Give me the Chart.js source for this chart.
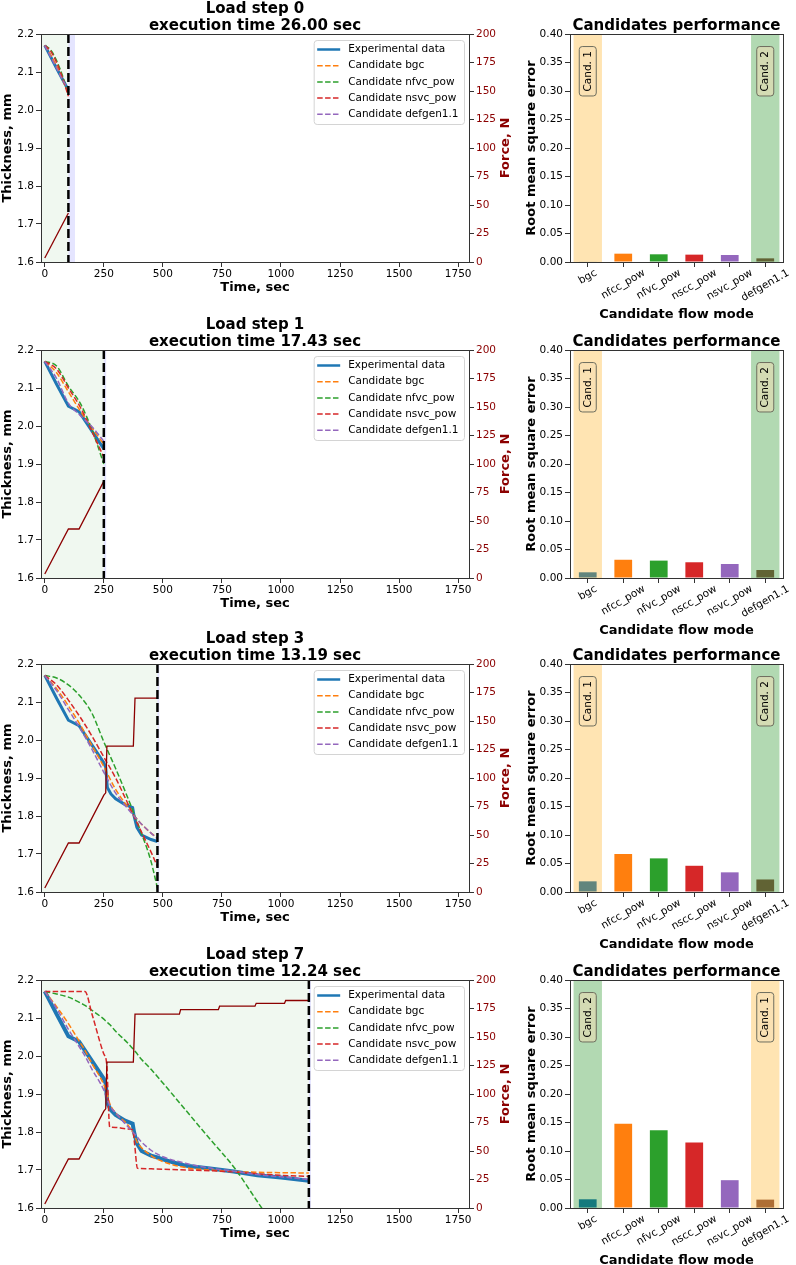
<!DOCTYPE html>
<html>
<head>
<meta charset="utf-8">
<script src="https://cdn.jsdelivr.net/npm/chart.js@4.4.0/dist/chart.umd.min.js"></script>
<style>
  html, body { margin: 0; padding: 0; background: #fff; }
  #page { position: relative; width: 796px; height: 1265px; overflow: hidden; background: #fff; }
  canvas { position: absolute; }
</style>
</head>
<body>
<div id="page"></div>
<script>
// ---- values ----
const stepNames = ["Load step 0", "Load step 1", "Load step 3", "Load step 7"];
const execTimes = ["26.00", "17.43", "13.19", "12.24"];
const stepEnd = [100, 250, 477, 1118];     // dashed line / end of fitted window, sec
const nextStart = [128, 260, 485, 1127];   // end of the light blue band
const timeTicks = [0, 250, 500, 750, 1000, 1250, 1500, 1750];

// experimental thickness
const expTime  = [0, 50, 100, 145, 250, 258, 265, 280, 300, 340, 372, 378, 390, 410, 450, 477, 500, 560, 600, 700, 800, 900, 1000, 1118];
const expThick = [2.17, 2.11, 2.052, 2.038, 1.94, 1.928, 1.875, 1.858, 1.845, 1.83, 1.822, 1.80, 1.77, 1.75, 1.738, 1.733, 1.728, 1.717, 1.711, 1.704, 1.696, 1.686, 1.68, 1.672];

// applied force
const forceTime = [0, 100, 145, 250, 258, 263, 375, 382, 477, 570, 575, 735, 740, 890, 895, 1015, 1020, 1118];
const forceVal  = [3.5, 43, 43, 85, 87, 128, 128, 170, 170, 170, 174, 174, 177, 177, 179.5, 179.5, 182, 182];

// candidate fits, one list per load step
const fitTime = [
  [0, 25, 50, 75, 100],
  [0, 50, 100, 150, 200, 250],
  [0, 50, 100, 150, 200, 250, 300, 350, 400, 450, 477],
  [0, 50, 100, 150, 170, 200, 250, 262, 275, 300, 350, 372, 380, 392, 400, 450, 500, 600, 700, 800, 900, 1000, 1118]
];
const bgcFit = [
  [2.17, 2.145, 2.115, 2.08, 2.045],
  [2.17, 2.14, 2.09, 2.04, 1.995, 1.952],
  [2.17, 2.135, 2.09, 2.04, 1.985, 1.93, 1.87, 1.825, 1.785, 1.755, 1.743],
  [2.17, 2.13, 2.085, 2.035, 2.015, 1.98, 1.925, 1.905, 1.875, 1.85, 1.82, 1.80, 1.79, 1.772, 1.765, 1.738, 1.722, 1.706, 1.70, 1.696, 1.694, 1.693, 1.692]
];
const nfvcFit = [
  [2.17, 2.158, 2.13, 2.09, 2.04],
  [2.17, 2.158, 2.105, 2.06, 1.99, 1.90],
  [2.17, 2.163, 2.145, 2.115, 2.07, 1.995, 1.925, 1.85, 1.77, 1.68, 1.61],
  [2.17, 2.163, 2.155, 2.14, 2.133, 2.12, 2.097, 2.09, 2.083, 2.065, 2.035, 2.02, 2.014, 2.005, 1.998, 1.965, 1.929, 1.855, 1.781, 1.708, 1.617, 1.525, 1.415]
];
const nsvcFit = [
  [2.17, 2.155, 2.125, 2.085, 2.036],
  [2.17, 2.15, 2.1, 2.05, 1.985, 1.918],
  [2.17, 2.145, 2.105, 2.06, 2.01, 1.955, 1.90, 1.835, 1.77, 1.705, 1.667],
  [2.17, 2.17, 2.17, 2.17, 2.17, 2.11, 2.005, 1.98, 1.813, 1.812, 1.808, 1.806, 1.77, 1.705, 1.704, 1.703, 1.702, 1.70, 1.698, 1.695, 1.69, 1.686, 1.683]
];
const defgenFit = [
  [2.17, 2.14, 2.11, 2.08, 2.055],
  [2.17, 2.125, 2.06, 2.028, 1.998, 1.96],
  [2.17, 2.13, 2.08, 2.03, 1.975, 1.915, 1.86, 1.82, 1.785, 1.755, 1.74],
  [2.17, 2.125, 2.07, 2.02, 2.0, 1.965, 1.91, 1.89, 1.87, 1.85, 1.815, 1.80, 1.795, 1.787, 1.78, 1.752, 1.735, 1.717, 1.705, 1.697, 1.688, 1.682, 1.675]
];
const legendLabels = ["Experimental data", "Candidate bgc", "Candidate nfvc_pow", "Candidate nsvc_pow", "Candidate defgen1.1"];

// bar chart
const flowModes = ["bgc", "nfcc_pow", "nfvc_pow", "nscc_pow", "nsvc_pow", "defgen1.1"];
const rmse0 = [0.001, 0.0146, 0.0135, 0.0129, 0.0123, 0.0064];
const rmse1 = [0.010, 0.032, 0.0305, 0.0276, 0.0246, 0.014];
const rmse2 = [0.0187, 0.0667, 0.059, 0.046, 0.0345, 0.022];
const rmse3 = [0.0153, 0.148, 0.1365, 0.115, 0.0488, 0.0147];
const rmse = [rmse0, rmse1, rmse2, rmse3];
const cand1 = [0, 0, 0, 5];   // index highlighted as "Cand. 1"
const cand2 = [5, 5, 5, 0];   // index highlighted as "Cand. 2"

// ---- styling ----
const FONT = "'DejaVu Sans', sans-serif";
Chart.defaults.font.family = FONT;
Chart.defaults.font.size = 10.5;
Chart.defaults.color = '#000';

const lineColors = ['#1f77b4', '#ff7f0e', '#2ca02c', '#d62728', '#9467bd'];
const barColors = ['#1f77b4', '#ff7f0e', '#2ca02c', '#d62728', '#9467bd', '#8c564b'];
const plotTop = [34, 350, 664, 980];

const page = document.getElementById('page');
function makeCanvas(left, top, w, h) {
  const c = document.createElement('canvas');
  c.width = w; c.height = h;
  c.style.left = left + 'px'; c.style.top = top + 'px';
  c.style.width = w + 'px'; c.style.height = h + 'px';
  page.appendChild(c);
  return c.getContext('2d');
}
const pts = (ts, vs) => ts.map((t, i) => ({x: t, y: vs[i]}));
const upTo = (ts, vs, end) => pts(ts, vs).filter(p => p.x <= end);

function frame(ctx, a) {
  ctx.save();
  ctx.strokeStyle = '#333';
  ctx.lineWidth = 1;
  ctx.strokeRect(Math.round(a.left) + 0.5, Math.round(a.top) + 0.5, Math.round(a.width), Math.round(a.height));
  ctx.restore();
}

const tickGrid = {drawOnChartArea: false, drawTicks: true, tickLength: 5, color: '#333'};
const boldTitle = {size: 13, weight: 'bold', lineHeight: 1.2};

// decorations for the thickness/force charts
const lineDeco = {
  id: 'lineDeco',
  beforeDatasetsDraw(chart, args, opts) {
    const {ctx, chartArea: a, scales: {x}} = chart;
    const xe = x.getPixelForValue(opts.end);
    const xn = x.getPixelForValue(opts.next);
    ctx.save();
    ctx.fillStyle = 'rgba(0,128,0,0.06)';
    ctx.fillRect(a.left, a.top, xe - a.left, a.height);
    ctx.fillStyle = 'rgba(0,0,255,0.1)';
    ctx.fillRect(xe, a.top, xn - xe, a.height);
    ctx.restore();
  },
  afterDatasetsDraw(chart, args, opts) {
    const {ctx, chartArea: a, scales: {x}} = chart;
    const xe = x.getPixelForValue(opts.end);
    ctx.save();
    ctx.strokeStyle = '#000';
    ctx.lineWidth = 2.5;
    ctx.setLineDash([9, 4]);
    ctx.beginPath();
    ctx.moveTo(xe, a.top);
    ctx.lineTo(xe, a.bottom);
    ctx.stroke();
    ctx.restore();
    frame(ctx, a);
  },
  afterDraw(chart) {
    const {ctx, chartArea: a} = chart;
    // legend box, upper right
    ctx.save();
    ctx.font = '10.5px ' + FONT;
    const tw = Math.max(...legendLabels.map(l => ctx.measureText(l).width));
    const w = tw + 40, h = 84;
    const bx = a.right - 5 - w, by = a.top + 6;
    ctx.beginPath();
    ctx.roundRect(bx + 0.5, by + 0.5, w, h, 3);
    ctx.fillStyle = 'rgba(255,255,255,0.85)';
    ctx.fill();
    ctx.strokeStyle = '#d4d4d4';
    ctx.lineWidth = 1;
    ctx.stroke();
    legendLabels.forEach((lab, i) => {
      const cy = by + 9.5 + i * 16.2;
      ctx.beginPath();
      ctx.strokeStyle = lineColors[i];
      if (i === 0) { ctx.lineWidth = 2.5; ctx.setLineDash([]); }
      else { ctx.lineWidth = 1.5; ctx.setLineDash([5.5, 2.4]); }
      ctx.moveTo(bx + 3.5, cy);
      ctx.lineTo(bx + 26.5, cy);
      ctx.stroke();
      ctx.setLineDash([]);
      ctx.fillStyle = '#000';
      ctx.textBaseline = 'middle';
      ctx.textAlign = 'left';
      ctx.fillText(lab, bx + 34.5, cy);
    });
    // right axis title, reading bottom to top
    ctx.translate(506, (a.top + a.bottom) / 2);
    ctx.rotate(-Math.PI / 2);
    ctx.font = 'bold 13px ' + FONT;
    ctx.fillStyle = '#8b0000';
    ctx.textAlign = 'center';
    ctx.textBaseline = 'middle';
    ctx.fillText('Force, N', 0, 0);
    ctx.restore();
  }
};

// candidate bands and rotated category labels on the bar charts
const candSpans = {
  id: 'candSpans',
  afterDatasetsDraw(chart, args, opts) {
    const {ctx, chartArea: a, scales: {x, y}} = chart;
    const step = x.getPixelForValue(1) - x.getPixelForValue(0);
    const bands = [[opts.c1, 'rgba(255,165,0,0.3)', 'Cand. 1'], [opts.c2, 'rgba(0,128,0,0.3)', 'Cand. 2']];
    ctx.save();
    bands.forEach(([idx, col]) => {
      const cx = x.getPixelForValue(idx);
      ctx.fillStyle = col;
      ctx.fillRect(cx - 0.4 * step, a.top, 0.8 * step, a.height);
    });
    ctx.font = '10.5px ' + FONT;
    bands.forEach(([idx, col, lab]) => {
      const cx = x.getPixelForValue(idx);
      const tw = ctx.measureText(lab).width;
      const pad = 4.5, bh = 17;
      ctx.save();
      ctx.translate(cx, y.getPixelForValue(0.378));
      ctx.rotate(-Math.PI / 2);
      ctx.beginPath();
      ctx.roundRect(-tw - 2 * pad, -bh / 2, tw + 2 * pad, bh, 3);
      ctx.fillStyle = 'rgba(245,222,179,0.5)';
      ctx.fill();
      ctx.strokeStyle = '#6e6e5e';
      ctx.lineWidth = 1;
      ctx.stroke();
      ctx.fillStyle = '#000';
      ctx.textAlign = 'right';
      ctx.textBaseline = 'middle';
      ctx.fillText(lab, -pad, 0.5);
      ctx.restore();
    });
    // category labels rotated 30 degrees, centred under their ticks
    const rot = Math.PI / 6, fh = 12;
    chart.data.labels.forEach((lab, i) => {
      const w = ctx.measureText(lab).width;
      const bbH = w * Math.sin(rot) + fh * Math.cos(rot);
      ctx.save();
      ctx.translate(x.getPixelForValue(i), a.bottom + 5 + bbH / 2);
      ctx.rotate(-rot);
      ctx.fillStyle = '#000';
      ctx.textAlign = 'center';
      ctx.textBaseline = 'middle';
      ctx.fillText(lab, 0, 0);
      ctx.restore();
    });
    ctx.restore();
    frame(ctx, a);
  }
};

for (let r = 0; r < 4; r++) {
  const end = stepEnd[r];
  const dash = [5.5, 2.4];
  const cand = (data, i, order) => ({
    data: data, borderColor: lineColors[i], borderWidth: 1.5, borderDash: dash,
    pointRadius: 0, cubicInterpolationMode: 'monotone', order: order
  });

  new Chart(makeCanvas(0, plotTop[r] - 34, 520, 300), {
    type: 'line',
    data: {
      datasets: [
        {data: upTo(expTime, expThick, end), borderColor: lineColors[0], borderWidth: r === 3 ? 4 : 3, pointRadius: 0, order: 6},
        cand(pts(fitTime[r], bgcFit[r]), 1, 5),
        cand(pts(fitTime[r], nfvcFit[r]), 2, 4),
        cand(pts(fitTime[r], nsvcFit[r]), 3, 3),
        cand(pts(fitTime[r], defgenFit[r]), 4, 2),
        {data: upTo(forceTime, forceVal, end), yAxisID: 'y1', borderColor: '#8b0000', borderWidth: 1.3, pointRadius: 0, order: 1}
      ]
    },
    options: {
      responsive: false, animation: false, devicePixelRatio: 1,
      layout: {padding: 0},
      plugins: {
        legend: {display: false}, tooltip: {enabled: false},
        title: {
          display: true, fullSize: false,
          text: [stepNames[r], 'execution time ' + execTimes[r] + ' sec'],
          font: {size: 15, weight: 'bold', lineHeight: 1.1},
          color: '#000', padding: {top: 1, bottom: 0}
        },
        lineDeco: {end: end, next: nextStart[r]}
      },
      scales: {
        x: {
          type: 'linear', min: -16, max: 1796, bounds: 'data',
          afterBuildTicks: s => { s.ticks = timeTicks.map(v => ({value: v})); },
          ticks: {padding: 1, maxRotation: 0, color: '#000', callback: v => String(v)},
          grid: tickGrid, border: {display: false},
          title: {display: true, text: 'Time, sec', font: boldTitle, color: '#000', padding: {top: 0, bottom: 4.2}},
          afterFit: s => { s.height = 38; }
        },
        y: {
          position: 'left', min: 1.6, max: 2.2,
          ticks: {stepSize: 0.1, padding: 2, color: '#000', callback: v => v.toFixed(1)},
          grid: tickGrid, border: {display: false},
          title: {display: true, text: 'Thickness, mm', font: boldTitle, color: '#000', padding: {top: 0, bottom: 0}},
          afterFit: s => { s.width = 41; }
        },
        y1: {
          position: 'right', min: 0, max: 200,
          ticks: {stepSize: 25, padding: 2, color: '#8b0000'},
          grid: tickGrid, border: {display: false},
          afterFit: s => { s.width = 51; }
        }
      }
    },
    plugins: [lineDeco]
  });

  new Chart(makeCanvas(520, plotTop[r] - 34, 276, 324), {
    type: 'bar',
    data: {
      labels: flowModes,
      datasets: [{data: rmse[r], backgroundColor: barColors, barPercentage: 0.5, categoryPercentage: 1}]
    },
    options: {
      responsive: false, animation: false, devicePixelRatio: 1,
      layout: {padding: {left: 0, right: 13, top: 0, bottom: 0}},
      plugins: {
        legend: {display: false}, tooltip: {enabled: false},
        title: {
          display: true, fullSize: false, text: 'Candidates performance',
          font: {size: 15, weight: 'bold', lineHeight: 1.1},
          color: '#000', padding: {top: 17.5, bottom: 0}
        },
        candSpans: {c1: cand1[r], c2: cand2[r]}
      },
      scales: {
        x: {
          ticks: {display: false},
          grid: Object.assign({offset: false}, tickGrid), border: {display: false},
          title: {display: true, text: 'Candidate flow mode', font: boldTitle, color: '#000', padding: {top: 0, bottom: 1.9}},
          afterFit: s => { s.height = 62; }
        },
        y: {
          min: 0, max: 0.4,
          ticks: {stepSize: 0.05, padding: 2, color: '#000', callback: v => v.toFixed(2)},
          grid: tickGrid, border: {display: false},
          title: {display: true, text: 'Root mean square error', font: boldTitle, color: '#000', padding: {top: 4, bottom: 0}},
          afterFit: s => { s.width = 50; }
        }
      }
    },
    plugins: [candSpans]
  });
}
</script>
</body>
</html>
